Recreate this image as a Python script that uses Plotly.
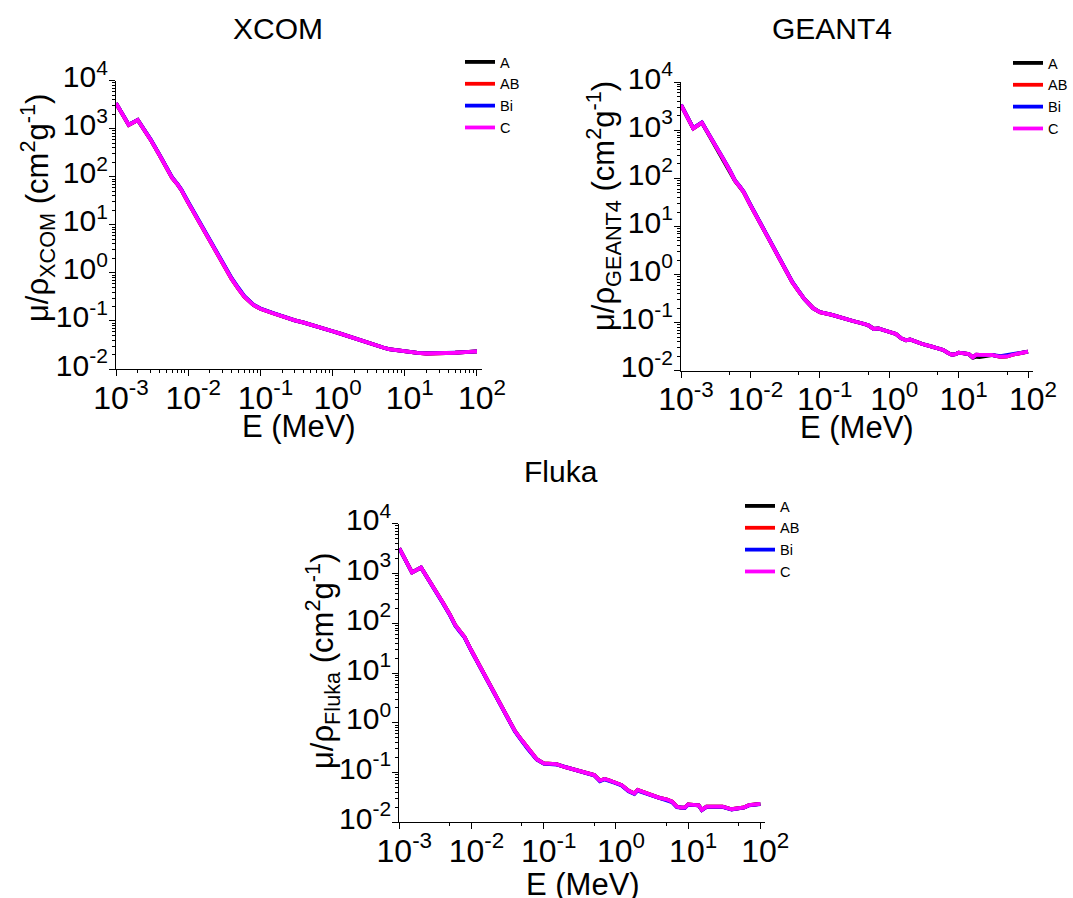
import plotly.graph_objects as go

# ---------------- data ----------------
E_xcom = [0.001, 0.0015, 0.002, 0.003, 0.004, 0.005, 0.006, 0.007, 0.008, 0.01,
          0.015, 0.02, 0.03, 0.04, 0.05, 0.06, 0.08, 0.1, 0.15, 0.2, 0.3, 0.4,
          0.5, 0.6, 0.8, 1.0, 1.25, 1.5, 2, 3, 4, 5, 6, 8, 10, 15, 20, 30, 40,
          50, 60, 80, 100]
xcom_A = [3400, 1200, 1520, 600, 285, 160, 95, 72, 54, 29,
          10, 4.6, 1.55, 0.75, 0.46, 0.32, 0.215, 0.18, 0.145, 0.124, 0.103, 0.092,
          0.084, 0.077, 0.068, 0.061, 0.055, 0.050, 0.043, 0.036, 0.031, 0.028, 0.026, 0.0243, 0.0228, 0.0216, 0.021, 0.021, 0.0213,
          0.0218, 0.0221, 0.0227, 0.0232]
xcom_AB = [3400, 1200, 1520, 600, 285, 160, 95, 72, 54, 29,
           10, 4.6, 1.55, 0.75, 0.46, 0.32, 0.215, 0.18, 0.145, 0.124, 0.103, 0.092,
           0.084, 0.077, 0.068, 0.061, 0.055, 0.050, 0.043, 0.036, 0.031, 0.028, 0.026, 0.0243, 0.0228, 0.0216, 0.021, 0.021, 0.0213,
           0.0218, 0.0221, 0.0227, 0.0232]
xcom_Bi = [3420, 1210, 1530, 610, 290, 163, 97, 73, 55, 30,
           10.4, 4.8, 1.62, 0.78, 0.48, 0.33, 0.218, 0.182, 0.146, 0.124, 0.103, 0.092,
           0.084, 0.077, 0.068, 0.061, 0.055, 0.050, 0.043, 0.036, 0.031, 0.028, 0.026, 0.0243, 0.0228, 0.0217, 0.0211, 0.0211, 0.0214,
           0.0219, 0.0222, 0.0228, 0.0233]
xcom_C = [3400, 1200, 1520, 600, 285, 160, 95, 72, 54, 29,
          10, 4.6, 1.55, 0.75, 0.46, 0.32, 0.215, 0.18, 0.145, 0.124, 0.103, 0.092,
          0.084, 0.077, 0.068, 0.061, 0.055, 0.050, 0.043, 0.036, 0.031, 0.028, 0.026, 0.0243, 0.0228, 0.0216, 0.021, 0.021, 0.0213,
          0.0218, 0.0221, 0.0227, 0.0232]

E_geant = [0.001, 0.0015, 0.002, 0.003, 0.004, 0.005, 0.006, 0.007, 0.008, 0.01,
           0.015, 0.02, 0.03, 0.04, 0.05, 0.06, 0.08, 0.1, 0.15, 0.2, 0.3, 0.4,
           0.5, 0.6, 0.7, 0.8, 1.0, 1.25, 1.5, 1.75, 2.0, 2.2, 3, 4, 5, 6, 7,
           8, 9, 10, 12, 14, 16, 18, 20, 25, 30, 40, 50, 60, 70, 80, 100]
geant_A = [3400, 1100, 1450, 520, 250, 148, 89, 67, 52, 28,
           9.5, 4.3, 1.45, 0.70, 0.44, 0.31, 0.20, 0.165, 0.145, 0.127, 0.108, 0.097,
           0.088, 0.074, 0.076, 0.071, 0.064, 0.058, 0.047, 0.043, 0.0445, 0.042, 0.036, 0.032, 0.0295, 0.027, 0.0235,
           0.0215, 0.022, 0.0237, 0.023, 0.0222, 0.0185, 0.0195, 0.0193, 0.0205, 0.0212, 0.0195, 0.0198, 0.0215, 0.0225, 0.0232, 0.025]
geant_AB = [3400, 1100, 1450, 560, 265, 150, 90, 68, 52, 28,
            9.5, 4.3, 1.45, 0.70, 0.44, 0.31, 0.20, 0.165, 0.145, 0.127, 0.108, 0.097,
            0.088, 0.074, 0.076, 0.071, 0.064, 0.058, 0.047, 0.043, 0.0445, 0.042, 0.036, 0.032, 0.0295, 0.027, 0.0235,
            0.0215, 0.022, 0.0237, 0.023, 0.0222, 0.019, 0.0215, 0.0213, 0.0213, 0.0212, 0.0195, 0.0198, 0.0215, 0.0225, 0.0232, 0.025]
geant_Bi = [3420, 1110, 1460, 565, 268, 152, 91, 69, 53, 28.5,
            9.7, 4.4, 1.48, 0.71, 0.45, 0.31, 0.20, 0.166, 0.145, 0.127, 0.108, 0.097,
            0.088, 0.074, 0.076, 0.071, 0.064, 0.058, 0.047, 0.043, 0.0445, 0.042, 0.036, 0.032, 0.0295, 0.027, 0.0235,
            0.0215, 0.022, 0.0237, 0.023, 0.0222, 0.019, 0.0215, 0.0213, 0.0213, 0.0212, 0.0200, 0.0212, 0.0228, 0.0232, 0.0236, 0.025]
geant_C = [3400, 1100, 1450, 560, 265, 150, 90, 68, 52, 28,
           9.5, 4.3, 1.45, 0.70, 0.44, 0.31, 0.20, 0.165, 0.145, 0.127, 0.108, 0.097,
           0.088, 0.074, 0.076, 0.071, 0.064, 0.058, 0.047, 0.043, 0.0445, 0.042, 0.036, 0.032, 0.0295, 0.027, 0.0235,
           0.0215, 0.022, 0.0237, 0.023, 0.0222, 0.019, 0.0215, 0.0213, 0.0213, 0.0212, 0.0195, 0.0198, 0.0215, 0.0225, 0.0232, 0.025]

E_fluka = [0.001, 0.0015, 0.002, 0.003, 0.004, 0.005, 0.006, 0.007, 0.008, 0.01,
           0.015, 0.02, 0.03, 0.04, 0.05, 0.06, 0.08, 0.1, 0.15, 0.2, 0.3, 0.4,
           0.5, 0.6, 0.7, 0.8, 1.0, 1.2, 1.5, 1.8, 2.0, 2.2, 3, 4, 5, 6, 7,
           8, 9, 10, 12, 14, 15.5, 18, 20, 25, 30, 40, 50, 60, 70, 80, 100]
fluka_A = [3200, 1050, 1320, 530, 260, 150, 90, 68, 53, 28,
           9.6, 4.3, 1.45, 0.68, 0.44, 0.31, 0.185, 0.153, 0.147, 0.128, 0.108, 0.097,
           0.089, 0.069, 0.074, 0.070, 0.062, 0.056, 0.043, 0.038, 0.0445, 0.042, 0.036, 0.031, 0.029, 0.026, 0.0205,
           0.0198, 0.0197, 0.0229, 0.0225, 0.022, 0.0178, 0.0206, 0.0207, 0.0207, 0.0206, 0.0183, 0.0188, 0.020, 0.0222, 0.0228, 0.0234]
fluka_AB = [3200, 1050, 1320, 530, 260, 150, 90, 68, 53, 28,
            9.6, 4.3, 1.45, 0.68, 0.44, 0.31, 0.185, 0.153, 0.147, 0.128, 0.108, 0.097,
            0.089, 0.069, 0.074, 0.070, 0.062, 0.056, 0.043, 0.038, 0.0445, 0.042, 0.036, 0.031, 0.029, 0.026, 0.0205,
            0.0198, 0.0197, 0.0229, 0.0225, 0.022, 0.0178, 0.0206, 0.0207, 0.0207, 0.0206, 0.0183, 0.0188, 0.020, 0.0222, 0.0228, 0.0234]
fluka_Bi = [3190, 1045, 1310, 525, 255, 147, 88, 66, 52, 27.5,
            9.4, 4.2, 1.42, 0.67, 0.43, 0.30, 0.183, 0.151, 0.145, 0.127, 0.107, 0.096,
            0.088, 0.067, 0.073, 0.069, 0.061, 0.055, 0.042, 0.037, 0.0435, 0.041, 0.0355, 0.0305, 0.0285, 0.0255, 0.0202,
            0.0195, 0.0194, 0.0226, 0.0222, 0.0218, 0.0176, 0.0204, 0.0205, 0.0205, 0.0204, 0.0180, 0.0186, 0.0198, 0.0220, 0.0226, 0.0233]
fluka_C = [3200, 1050, 1320, 530, 260, 150, 90, 68, 53, 28,
           9.6, 4.3, 1.45, 0.68, 0.44, 0.31, 0.185, 0.153, 0.147, 0.128, 0.108, 0.097,
           0.089, 0.069, 0.074, 0.070, 0.062, 0.056, 0.043, 0.038, 0.0445, 0.042, 0.036, 0.031, 0.029, 0.026, 0.0205,
           0.0198, 0.0197, 0.0229, 0.0225, 0.022, 0.0178, 0.0206, 0.0207, 0.0207, 0.0206, 0.0183, 0.0188, 0.020, 0.0222, 0.0228, 0.0234]

series_names = ["A", "AB", "Bi", "C"]
series_colors = ["#000000", "#FF0000", "#0000FF", "#FF00FF"]

x_tick_vals = [1e-3, 1e-2, 1e-1, 1e0, 1e1, 1e2]
x_tick_text = ["10<sup>-3</sup>", "10<sup>-2</sup>", "10<sup>-1</sup>",
               "10<sup>0</sup>", "10<sup>1</sup>", "10<sup>2</sup>"]
y_tick_vals = [1e-2, 1e-1, 1e0, 1e1, 1e2, 1e3, 1e4]
y_tick_text = ["10<sup>-2</sup>", "10<sup>-1</sup>", "10<sup>0</sup>",
               "10<sup>1</sup>", "10<sup>2</sup>", "10<sup>3</sup>", "10<sup>4</sup>"]

panel_titles = ["XCOM", "GEANT4", "Fluka"]
y_titles = ["μ/ρ<sub>XCOM</sub> (cm<sup>2</sup>g<sup>-1</sup>)",
            "μ/ρ<sub>GEANT4</sub> (cm<sup>2</sup>g<sup>-1</sup>)",
            "μ/ρ<sub>Fluka</sub> (cm<sup>2</sup>g<sup>-1</sup>)"]
x_title = "E (MeV)"

# ---------------- layout geometry (pixels) ----------------
W, H = 1073, 898
FONT = "Arial, Liberation Sans, sans-serif"

def fx(p):
    return p / W

def fy(p):
    return 1 - p / H

panels = [
    dict(E=E_xcom, ys=[xcom_A, xcom_AB, xcom_Bi, xcom_C],
         xl=116, xr=482, xmax=2.07, yt=80.7, yb=369,
         minor_x=[m * 10 ** k for k in range(-3, 2) for m in range(2, 10)],
         title=(278, 29), xt=(299, 426), yti=(37, 208),
         leg=dict(x=fx(460), xanchor="left", y=fy(46))),
    dict(E=E_geant, ys=[geant_A, geant_AB, geant_Bi, geant_C],
         xl=681, xr=1033, xmax=2.072, yt=82.3, yb=370.7,
         minor_x=[5 * 10 ** k for k in range(-3, 2)],
         title=(832, 29), xt=(857, 427), yti=(603, 206),
         leg=dict(x=1.0, xanchor="right", y=fy(47))),
    dict(E=E_fluka, ys=[fluka_A, fluka_AB, fluka_Bi, fluka_C],
         xl=399.3, xr=765, xmax=2.065, yt=523.7, yb=822.3,
         minor_x=[5 * 10 ** k for k in range(-3, 2)],
         title=(561, 471), xt=(583, 884), yti=(322, 661),
         leg=dict(x=fx(740), xanchor="left", y=fy(490))),
]
minor_y = [m * 10 ** k for k in range(-2, 4) for m in range(2, 10)]

fig = go.Figure()
annotations = []
layout = dict(
    width=W, height=H, autosize=False,
    margin=dict(l=0, r=0, t=0, b=0, pad=0),
    paper_bgcolor="white", plot_bgcolor="white",
    font=dict(family=FONT, color="black"),
    showlegend=True,
)

for i, p in enumerate(panels):
    sfx = "" if i == 0 else str(i + 1)
    xa, ya = "x" + sfx, "y" + sfx
    lg = "legend" + sfx
    for name, color, vals in zip(series_names, series_colors, p["ys"]):
        fig.add_trace(go.Scatter(
            x=p["E"], y=vals, mode="lines", name=name,
            line=dict(color=color, width=3.8),
            xaxis=xa, yaxis=ya, legend=lg, showlegend=True,
        ))
    layout["xaxis" + sfx] = dict(
        type="log", domain=[fx(p["xl"]), fx(p["xr"])], range=[-3, p["xmax"]],
        anchor=ya, showline=True, linecolor="black", linewidth=1.3,
        automargin=False,
        ticks="outside", ticklen=6, tickwidth=1.3, tickcolor="black",
        tickmode="array", tickvals=x_tick_vals, ticktext=x_tick_text,
        tickfont=dict(size=32, family=FONT, color="black"),
        ticklabelshift=5, ticklabelstandoff=-6,
        showgrid=False, zeroline=False, fixedrange=True,
        minor=dict(tickmode="array", tickvals=p["minor_x"], ticks="outside",
                   ticklen=3, tickwidth=1, tickcolor="black", showgrid=False),
    )
    layout["yaxis" + sfx] = dict(
        type="log", domain=[fy(p["yb"]), fy(p["yt"])], range=[-2, 4],
        anchor=xa, showline=True, linecolor="black", linewidth=1.3,
        automargin=False,
        ticks="outside", ticklen=6, tickwidth=1.3, tickcolor="black",
        tickmode="array", tickvals=y_tick_vals, ticktext=y_tick_text,
        tickfont=dict(size=30, family=FONT, color="black"),
        ticklabelstandoff=-5, ticklabelshift=-4,
        showgrid=False, zeroline=False, fixedrange=True,
        minor=dict(tickmode="array", tickvals=minor_y, ticks="outside",
                   ticklen=3, tickwidth=1, tickcolor="black", showgrid=False),
    )
    layout[lg] = dict(
        x=p["leg"]["x"], y=p["leg"]["y"], xanchor=p["leg"]["xanchor"], yanchor="top",
        xref="paper", yref="paper",
        bgcolor="rgba(0,0,0,0)", borderwidth=0,
        font=dict(size=14.5, family=FONT, color="black"),
        itemwidth=30, traceorder="normal",
    )
    annotations.append(dict(
        text=panel_titles[i], x=fx(p["title"][0]), y=fy(p["title"][1]),
        xref="paper", yref="paper", showarrow=False,
        xanchor="center", yanchor="middle",
        font=dict(size=30, family=FONT, color="black")))
    annotations.append(dict(
        text=x_title, x=fx(p["xt"][0]), y=fy(p["xt"][1]),
        xref="paper", yref="paper", showarrow=False,
        xanchor="center", yanchor="middle",
        font=dict(size=31, family=FONT, color="black")))
    annotations.append(dict(
        text=y_titles[i], x=fx(p["yti"][0]), y=fy(p["yti"][1]),
        xref="paper", yref="paper", showarrow=False, textangle=-90,
        xanchor="center", yanchor="middle",
        font=dict(size=31, family=FONT, color="black")))

layout["annotations"] = annotations
fig.update_layout(**layout)
fig.write_html("out.html")
